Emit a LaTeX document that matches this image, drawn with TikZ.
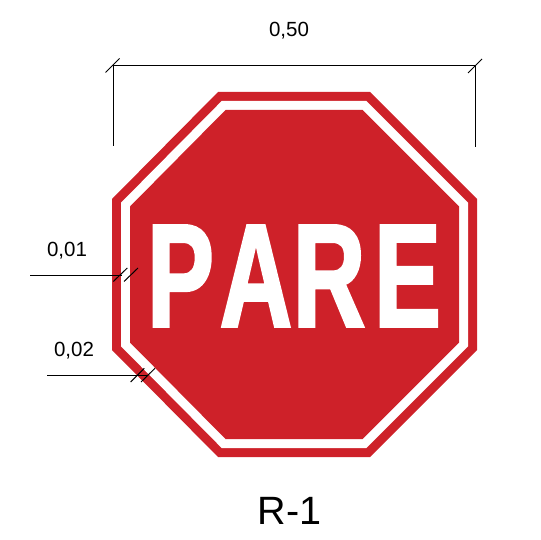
\documentclass[tikz,border=0pt]{standalone}
\usepackage{fontspec}
\setmainfont{Liberation Sans}
\newfontfamily\parefont[FakeStretch=0.68,FakeBold=1.7]{Liberation Sans Bold}
\definecolor{signred}{RGB}{206,33,41}
\tikzset{
  dim/.style={draw=black,line width=1pt},
  label/.style={inner sep=0pt,font=\fontsize{20.5}{22}\selectfont},
}
\begin{document}
\begin{tikzpicture}[x=1pt,y=-1pt]
\useasboundingbox (0,0) rectangle (540,540);
% sign
\fill[signred] (218,92)--(370,92)--(477,199)--(477,350)--(370,457)--(218,457)--(112,350)--(112,199)--cycle;
\fill[white] (221.7,101)--(366.3,101)--(468,202.7)--(468,346.3)--(366.3,448)--(221.7,448)--(121,346.3)--(121,202.7)--cycle;
\fill[signred] (225.5,110)--(362.5,110)--(459,206.5)--(459,342.5)--(362.5,439)--(225.5,439)--(130,342.5)--(130,206.5)--cycle;
\node[text=white,inner sep=0pt,anchor=base west] (pare) at (147,326.5)
  {\parefont\fontsize{147}{147}\selectfont P\kern6pt A\kern1pt R\kern9pt E};
% top dimension
\coordinate (tl) at (113,66); \coordinate (tr) at (475,66);
\coordinate (tlb) at (113,146.5); \coordinate (trb) at (475,147);
\draw[dim] (tl)--(tr);
\draw[dim] (tl)--(tlb);
\draw[dim] (tr)--(trb);
\draw[dim] (105.5,72.5)--(119.5,58.5);
\draw[dim] (468,73)--(482,59);
\node[label] (w) at (289,31) {0,50};
% left dims
\coordinate (a0) at (30,275); \coordinate (a1) at (122,275);
\draw[dim] (a0)--(a1);
\draw[dim] (113.3,281.5)--(127.3,268);
\draw[dim] (124,281.5)--(138,268);
\node[label] (d1) at (67,251) {0,01};
\coordinate (b0) at (47,375); \coordinate (b1) at (148,375);
\draw[dim] (b0)--(b1);
\draw[dim] (130.7,382)--(144.3,368.3);
\draw[dim] (141,382)--(155,368.3);
\node[label] (d2) at (74,351) {0,02};
\node[inner sep=0pt,font=\fontsize{39.5}{42}\selectfont] (code) at (289.5,510.5) {R-1};
\end{tikzpicture}
\end{document}
